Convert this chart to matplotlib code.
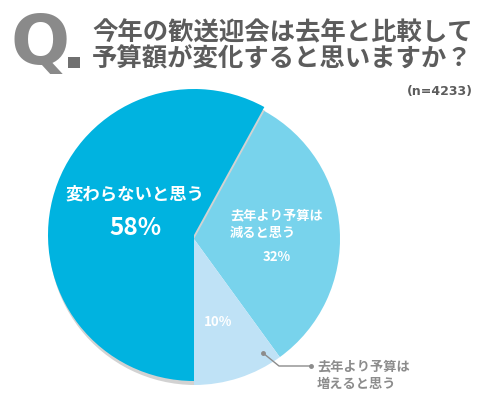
import matplotlib
matplotlib.use("Agg")
import matplotlib.pyplot as plt
from matplotlib.patches import Wedge, Rectangle

plt.rcParams['font.family'] = ['Noto Sans CJK JP', 'DejaVu Sans']

# data
labels = ['変わらないと思う', '去年より予算は\n減ると思う', '去年より予算は\n増えると思う']
values = [58, 32, 10]
pct_labels = ['58%', '32%', '10%']
colors = ['#00b3e0', '#78d3ec', '#bfe2f6']
title_lines = ['今年の歓送迎会は去年と比較して', '予算額が変化すると思いますか？']
n_text = '(n=4233)'

W, H = 500, 405
fig = plt.figure(figsize=(W / 100, H / 100), dpi=100)
ax = fig.add_axes([0, 0, 1, 1])

def Y(y):
    # pixel row -> data y
    return H - y

cx, cy, r = 194, Y(239), 146
wedges, _ = ax.pie(values, colors=colors, startangle=-90, counterclock=False,
                   center=(cx, cy), radius=r, frame=True,
                   wedgeprops=dict(linewidth=0))

# little shadow under the big slice, then lift it up a bit
w0 = wedges[0]
shadow = Wedge((cx + 1, cy), r, w0.theta1, w0.theta2, color='#d2d2d2', lw=0, zorder=0.5)
ax.add_patch(shadow)
w0.set_center((cx, cy + 4))
w0.set_zorder(3)

# labels inside slices
ax.text(135, Y(194), labels[0], ha='center', va='center', color='white',
        fontsize=12.5, fontweight='bold', zorder=5)
ax.text(135, Y(228), pct_labels[0], ha='center', va='center', color='white',
        fontsize=17.5, fontweight='bold', zorder=5)
ax.text(230, Y(224), labels[1], ha='left', va='center', color='white',
        fontsize=9.5, fontweight='bold', linespacing=1.3, zorder=5)
ax.text(277, Y(257), pct_labels[1], ha='center', va='center', color='white',
        fontsize=9.5, fontweight='bold', zorder=5)
ax.text(218, Y(322), pct_labels[2], ha='center', va='center', color='white',
        fontsize=9.5, fontweight='bold', zorder=5)

# leader for the small slice
grey = '#8c8c8c'
ax.plot([263, 279, 311], [Y(353), Y(366), Y(366)], color=grey, lw=1, zorder=4)
ax.plot([263, 311], [Y(353), Y(366)], 'o', color=grey, ms=2.5, zorder=4)
ax.text(317, Y(375), labels[2], ha='left', va='center', color=grey,
        fontsize=9.5, fontweight='bold', linespacing=1.3, zorder=5)

# title
ax.text(11, Y(44), 'Q', ha='left', va='center', color='#8a8a8a',
        fontsize=50, fontweight='bold', family='DejaVu Sans')
ax.add_patch(Rectangle((68, Y(68)), 12, 11, color='#707070', lw=0))
ax.text(92, Y(33), title_lines[0], ha='left', va='center', color='#5c5c5c',
        fontsize=18.3, fontweight='bold')
ax.text(92, Y(59), title_lines[1], ha='left', va='center', color='#5c5c5c',
        fontsize=18.3, fontweight='bold')
ax.text(473, Y(91), n_text, ha='right', va='center', color='#5c5c5c',
        fontsize=9, fontweight='bold', family='DejaVu Sans')

ax.set_xlim(0, W)
ax.set_ylim(0, H)
ax.set_aspect('auto')
ax.axis('off')

fig.savefig('out.png', dpi=100)
